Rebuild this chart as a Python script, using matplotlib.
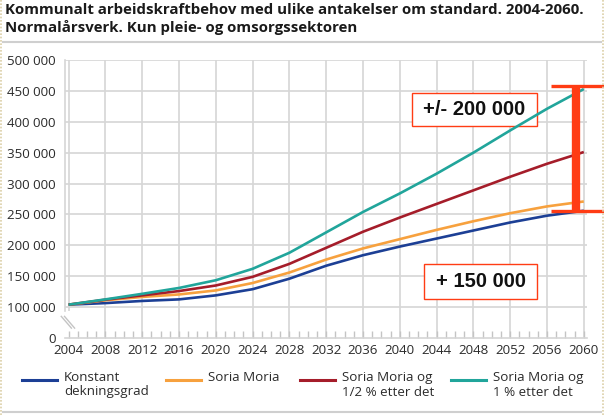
import matplotlib
matplotlib.use('Agg')
import matplotlib.pyplot as plt
from matplotlib.lines import Line2D
from matplotlib.patches import Rectangle

# ---------------- data ----------------
years = [2004, 2008, 2012, 2016, 2020, 2024, 2028, 2032, 2036, 2040, 2044, 2048, 2052, 2056, 2060]
konstant = [104000, 106500, 110000, 112500, 119000, 129000, 146000, 167000, 184000, 198000, 211000, 224000, 237000, 248000, 256000]
soria = [104000, 111000, 116500, 120500, 127000, 139000, 156000, 177000, 195000, 210000, 225000, 239000, 252000, 263000, 271000]
soria_half = [104000, 112000, 119000, 126000, 135000, 149000, 170000, 196000, 222000, 245000, 267000, 289000, 311000, 332000, 351000]
soria_one = [104000, 112500, 121500, 131000, 143500, 162000, 188000, 221000, 254000, 284000, 316000, 350000, 386000, 421000, 453000]
series = [konstant, soria, soria_half, soria_one]
series_labels = ["Konstant\ndekningsgrad", "Soria Moria", "Soria Moria og\n1/2 % etter det", "Soria Moria og\n1 % etter det"]
series_colors = ["#1c3f95", "#f7a13e", "#a51d2a", "#21a59b"]

ytick_values = [50000, 100000, 150000, 200000, 250000, 300000, 350000, 400000, 450000, 500000]
ytick_labels = ["0", "100 000", "150 000", "200 000", "250 000", "300 000", "350 000", "400 000", "450 000", "500 000"]
xtick_years = list(range(2004, 2061, 4))
minor_years = list(range(2004, 2061, 1))

title = "Kommunalt arbeidskraftbehov med ulike antakelser om standard. 2004-2060.\nNormalårsverk. Kun pleie- og omsorgssektoren"
range_label = "+/- 200 000"
range_low, range_high = 255000, 458000
base_label = "+ 150 000"

# ---------------- layout ----------------
W, H = 604, 415
fig = plt.figure(figsize=(W / 100, H / 100), dpi=100)
fig.patch.set_facecolor("white")

def fx(px):
    return px / W

def fy(py):
    return 1 - py / H

FONT = ["Open Sans", "DejaVu Sans"]
GRID = "#d6d6d6"
TXT = "#2b2b2b"

ax = fig.add_axes([fx(64.5), fy(338), fx(587) - fx(64.5), fy(60) - fy(338)])
ax.set_xlim(2003.55, 2060.35)
ax.set_ylim(50000, 500000)

for s in ["top", "right"]:
    ax.spines[s].set_visible(False)
ax.spines["bottom"].set_color(GRID)
ax.spines["bottom"].set_linewidth(1.2)
ax.spines["left"].set_color(GRID)
ax.spines["left"].set_linewidth(1.2)
ax.spines["left"].set_bounds(93000, 500000)

ax.set_yticks(ytick_values)
ax.set_yticklabels(ytick_labels, fontfamily=FONT, fontsize=9.6, color=TXT)
ax.tick_params(axis="y", length=0, pad=6.5)
ax.set_xticks(xtick_years)
ax.set_xticklabels([str(y) for y in xtick_years], fontfamily=FONT, fontsize=9.6, color=TXT)
ax.set_xticks(minor_years, minor=True)
ax.tick_params(axis="x", which="both", direction="in", length=5, width=1, color="#c4c4c4", pad=4)

# grid
for v in ytick_values[1:]:
    ax.axhline(v, color=GRID, lw=1.2, zorder=1)
for yr in xtick_years:
    lo = 93000 if yr == 2004 else 50000
    ax.vlines(yr, lo, 500000, color=GRID, lw=1.2, zorder=1)

# axis break marks
for dx in (0.0, 0.35):
    ax.plot([2003.2 + dx, 2004.3 + dx], [85000, 66000], color="#c4c4c4", lw=1.0,
            clip_on=False, zorder=2)

# annotation boxes (under lines)
def px_rect(x0, y0, x1, y1):
    return Rectangle((fx(x0), fy(y1)), fx(x1) - fx(x0), fy(y0) - fy(y1),
                     transform=fig.transFigure, facecolor="white",
                     edgecolor="#ff3c14", lw=1.0, zorder=2.5)

ax.add_patch(px_rect(411.7, 92.7, 536.7, 126))
ax.add_patch(px_rect(424.3, 264.3, 536.7, 298.7))
ax.text(fx(474.2), fy(109.5), range_label, transform=fig.transFigure, ha="center", va="center",
        fontsize=14.5, fontweight="bold", fontfamily=["Liberation Sans", "DejaVu Sans"],
        color="#111111", zorder=2.6)
ax.text(fx(480.5), fy(281.5), base_label, transform=fig.transFigure, ha="center", va="center",
        fontsize=14.5, fontweight="bold", fontfamily=["Liberation Sans", "DejaVu Sans"],
        color="#111111", zorder=2.6)

# data lines
for vals, col in zip(series, series_colors):
    ax.plot(years, vals, color=col, lw=1.9, zorder=3, solid_capstyle="butt")

# range bar
bar_x = 2059.2
ax.plot([bar_x, bar_x], [range_low, range_high], color="#ff3c14", lw=6, zorder=4,
        clip_on=False, solid_capstyle="butt")
for yv in (range_low, range_high):
    ax.plot([2056.4, 2062.2], [yv, yv], color="#ff3c14", lw=2.4, zorder=4,
            clip_on=False, solid_capstyle="butt")

# title
fig.text(fx(5), fy(2.5), title, ha="left", va="top", fontsize=10.85, fontweight="bold",
         fontfamily=FONT, color="#1a1a1a", linespacing=1.28)

# separators and frame
fig.add_artist(Line2D([fx(3), fx(601)], [fy(42.5), fy(42.5)], color="#cfcfcf", lw=1.5))
fig.add_artist(Line2D([fx(3), fx(601)], [fy(411.5), fy(411.5)], color="#cfcfcf", lw=1.5))
fig.add_artist(Line2D([fx(0.8), fx(0.8)], [0, 1], color="#dccfa8", lw=1.2, ls=(0, (1, 1))))
fig.add_artist(Line2D([fx(602.8), fx(602.8)], [0, 1], color="#dccfa8", lw=1.2, ls=(0, (1, 1))))

# legend (manual)
leg_x = [22, 166, 300, 451]
leg_y = 380
for lx, lab, col in zip(leg_x, series_labels, series_colors):
    fig.add_artist(Line2D([fx(lx), fx(lx + 35)], [fy(leg_y), fy(leg_y)], color=col, lw=2.2))
    fig.text(fx(lx + 42), fy(leg_y - 9), lab, ha="left", va="top", fontsize=9.6,
             fontfamily=FONT, color=TXT, linespacing=1.15)

fig.savefig("out.png", dpi=100, facecolor="white")
